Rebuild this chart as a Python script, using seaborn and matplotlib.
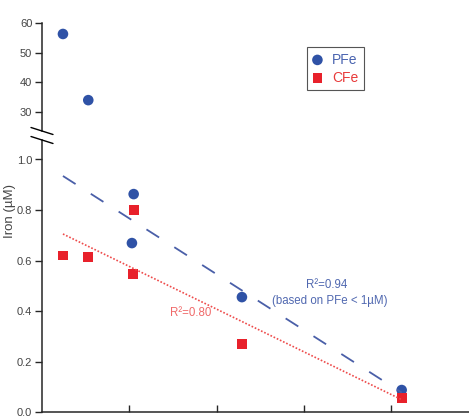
import numpy as np
import pandas as pd
import matplotlib
matplotlib.use("Agg")
import matplotlib.pyplot as plt
import seaborn as sns

# values
distance = [0.24, 0.53, 1.05, 1.03, 2.29, 4.12]
pfe = [56.3, 34.0, 0.863, 0.669, 0.455, 0.087]
cfe_x = [0.24, 0.53, 1.05, 1.04, 2.29, 4.12]
cfe = [0.62, 0.614, 0.80, 0.547, 0.27, 0.055]
low_ticks = [0.0, 0.2, 0.4, 0.6, 0.8, 1.0]
high_ticks = [30, 40, 50, 60]
x_ticks = [1, 2, 3, 4]

blue = "#2f52a6"
red = "#e8212b"

sns.set_style("ticks")
plt.rcParams["font.family"] = ["Liberation Sans", "DejaVu Sans"]

df_p = pd.DataFrame({"x": distance, "y": pfe})
df_c = pd.DataFrame({"x": cfe_x, "y": cfe})

W, H = 469, 419
fig = plt.figure(figsize=(W / 100, H / 100), dpi=100)

def box(left, top, right, bottom):
    return [left / W, 1 - bottom / H, (right - left) / W, (bottom - top) / H]

ax = fig.add_axes(box(42, 140, 42 + 5 * 87.3, 412))
ax_top = fig.add_axes(box(42, 23, 42 + 5 * 87.3, 131), sharex=ax)

for a in (ax, ax_top):
    sns.scatterplot(data=df_p, x="x", y="y", ax=a, color=blue, s=58,
                    marker="o", edgecolor="none", label="PFe" if a is ax else None)
    sns.scatterplot(data=df_c, x="x", y="y", ax=a, color=red, s=50,
                    marker="s", edgecolor="none", label="CFe" if a is ax else None)

# linear fits: PFe < 1 uM, all CFe, drawn over the full sampled range
low = df_p[df_p["y"] < 1]
k, b = np.polyfit(low["x"], low["y"], 1)
xs = np.array([min(distance), max(distance)])
sns.lineplot(x=xs, y=k * xs + b, ax=ax, color="#4a5fa8", lw=1.3,
             linestyle=(0, (8.3, 10)))
k2, b2 = np.polyfit(df_c["x"], df_c["y"], 1)
sns.lineplot(x=xs, y=k2 * xs + b2, ax=ax, color="#ee4b4b", lw=1.2,
             linestyle=(0, (1, 1.1)))

ax.set_xlim(0, 5)
ax.set_ylim(0, 272 / 252.5)
ax_top.set_ylim(23.6, 60)
ax.set_xticks(x_ticks)
ax.set_yticks(low_ticks)
ax.set_yticklabels([f"{v:.1f}" for v in low_ticks])
ax_top.set_yticks(high_ticks)

for a in (ax, ax_top):
    a.set_xlabel("")
    a.set_ylabel("")
    a.spines["top"].set_visible(False)
    a.spines["right"].set_visible(False)
    a.spines["left"].set_linewidth(1.1)
    a.spines["bottom"].set_linewidth(1.1)
    a.tick_params(axis="y", direction="out", length=5, width=1,
                  labelsize=8, labelcolor="#444444", pad=2)
ax.tick_params(axis="x", direction="in", length=5, width=1, labelbottom=False)
ax_top.spines["bottom"].set_visible(False)
ax_top.tick_params(axis="x", bottom=False, labelbottom=False)

# axis break marks
for y0 in (131, 140):
    fig.add_artist(plt.Line2D([31 / W, 53 / W], [1 - (y0 - 3.5) / H, 1 - (y0 + 3.5) / H],
                              color="black", lw=1.0))

ax.text(3.26, 0.503, "R²=0.94", color="#5068b0", fontsize=8.3, ha="center", va="center")
ax.text(3.30, 0.44, "(based on PFe < 1µM)", color="#5068b0", fontsize=8.3,
        ha="center", va="center")
ax.text(1.70, 0.392, "R²=0.80", color="#f06a6a", fontsize=8.3, ha="center", va="center")

fig.text(10 / W, 1 - 211 / H, "Iron (µM)", rotation=90, fontsize=9.5,
         color="#444444", ha="center", va="center")

ax.get_legend().remove()
handles, labels = ax.get_legend_handles_labels()
leg = fig.legend(handles, labels, loc="upper left", bbox_to_anchor=(307 / W, 1 - 47 / H),
                 borderaxespad=0, fancybox=False, edgecolor="#555555", framealpha=1,
                 fontsize=10, handlelength=0.7, handletextpad=0.7, labelspacing=0.3,
                 borderpad=0.4, markerscale=1.0)
leg.get_frame().set_linewidth(0.8)
for t, c in zip(leg.get_texts(), ["#4a64b0", "#e83a3a"]):
    t.set_color(c)

fig.savefig("out.png", dpi=100)
